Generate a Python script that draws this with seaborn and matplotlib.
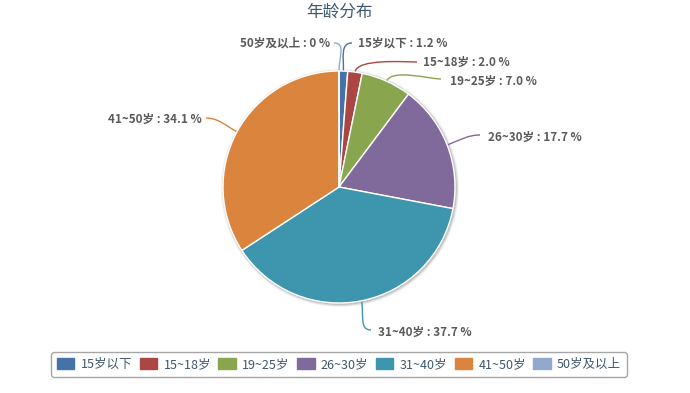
import matplotlib
matplotlib.use("Agg")
import matplotlib.pyplot as plt
import seaborn as sns
import numpy as np
from matplotlib.patches import Circle, Patch, PathPatch
from matplotlib.path import Path

# ---- data ----
categories = ['15岁以下', '15~18岁', '19~25岁', '26~30岁', '31~40岁', '41~50岁', '50岁及以上']
values = [1.2, 2.0, 7.0, 17.7, 37.7, 34.1, 0]
pct_text = ['1.2', '2.0', '7.0', '17.7', '37.7', '34.1', '0']
colors = ['#4572A7', '#AA4643', '#89A54E', '#80699B', '#3D96AE', '#DB843D', '#92A8CD']
title = '年龄分布'

# ---- layout (pixel coordinates, y from top) ----
W, H = 690, 393
CX, CY, R = 339, 187, 116
# label anchor (text x, text y, ha) and connector end point
label_pos = [(358, 43, 'left'), (423, 62, 'left'), (450, 81, 'left'), (488, 137, 'left'),
             (378, 332, 'left'), (202, 119, 'right'), (330, 43, 'right')]
conn_end = [(352, 43), (417, 62), (441, 79), (480, 135), (371, 330), (206, 118), (334, 43)]

sns.set_style("white")
plt.rcParams['font.family'] = ['Noto Sans CJK SC', 'DejaVu Sans']

fig = plt.figure(figsize=(W / 100, H / 100), dpi=100)
ax = fig.add_axes([0, 0, 1, 1])

def Y(y):
    return H - y

# shadow
for dr, a in [(3, 0.05), (2, 0.08), (1, 0.12)]:
    ax.add_patch(Circle((CX + 1, Y(CY) - 1), R + dr, color='#000000', alpha=a, lw=0, zorder=0))

wedges, _ = ax.pie(values, colors=colors, startangle=90, counterclock=False,
                   center=(CX, Y(CY)), radius=R,
                   wedgeprops=dict(edgecolor='white', linewidth=1))
for w in wedges:
    w.set_zorder(2)

for i, w in enumerate(wedges):
    mid = np.deg2rad((w.theta1 + w.theta2) / 2)
    p0 = (CX + R * np.cos(mid), Y(CY) + R * np.sin(mid))
    p1 = (CX + (R + 14) * np.cos(mid), Y(CY) + (R + 14) * np.sin(mid))
    ex, ey = conn_end[i]
    side = 1 if label_pos[i][2] == 'left' else -1
    p3 = (ex, Y(ey))
    p2 = (ex - side * 12, Y(ey))
    path = Path([p0, p1, p2, p3], [Path.MOVETO, Path.CURVE4, Path.CURVE4, Path.CURVE4])
    ax.add_patch(PathPatch(path, facecolor='none', edgecolor=colors[i], lw=1, zorder=1))
    tx, ty, ha = label_pos[i]
    ax.text(tx, Y(ty), f'{categories[i]} : {pct_text[i]} %', ha=ha, va='center',
            fontsize=8.4, fontweight='bold', color='#5a5a5a')

ax.set_xlim(0, W)
ax.set_ylim(0, H)
ax.set_aspect('auto')
ax.axis('off')

ax.text(CX, Y(12), title, ha='center', va='center', fontsize=12, color='#3E576F')

handles = [Patch(facecolor=c, edgecolor=c) for c in colors]
leg = fig.legend(handles, categories, loc='center', bbox_to_anchor=(CX / W, 1 - 364.5 / H),
                 ncol=7, frameon=True, fancybox=True, edgecolor='#909090', fontsize=9,
                 handlelength=1.4, handleheight=1.0, handletextpad=0.5, columnspacing=0.6,
                 borderpad=0.45, labelcolor='#3E576F')
leg.get_frame().set_linewidth(1)

fig.savefig('out.png', dpi=100)
